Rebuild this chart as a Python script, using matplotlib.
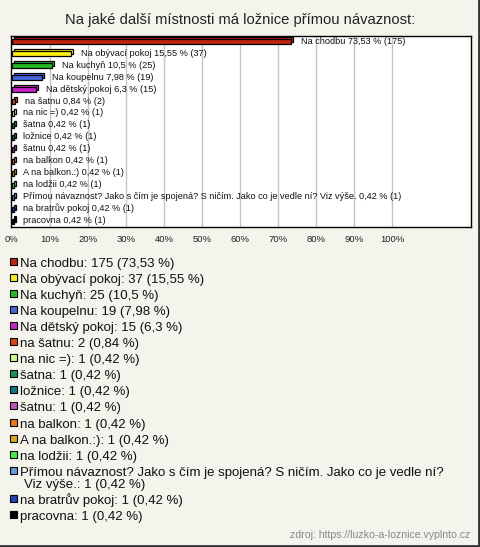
import textwrap
import matplotlib
matplotlib.use("Agg")
import matplotlib.pyplot as plt
from matplotlib.patches import Rectangle
from matplotlib.lines import Line2D

plt.rcParams['font.family'] = ['Liberation Sans', 'DejaVu Sans']

names = ['Na chodbu', 'Na obývací pokoj', 'Na kuchyň', 'Na koupelnu', 'Na dětský pokoj',
         'na šatnu', 'na nic =)', 'šatna', 'ložnice', 'šatnu', 'na balkon',
         'A na balkon.:)', 'na lodžii',
         'Přímou návaznost? Jako s čím je spojená? S ničím. Jako co je vedle ní? Viz výše.',
         'na bratrův pokoj', 'pracovna']
counts = [175, 37, 25, 19, 15, 2, 1, 1, 1, 1, 1, 1, 1, 1, 1, 1]
pcts = [73.53, 15.55, 10.5, 7.98, 6.3, 0.84, 0.42, 0.42, 0.42, 0.42, 0.42, 0.42, 0.42, 0.42, 0.42, 0.42]
colors = ['#c0230f', '#ffee11', '#22bb22', '#4466dd', '#cc22cc', '#dd4411', '#ccff88', '#119955',
          '#117788', '#bb55bb', '#ee7711', '#ddaa11', '#44ee44', '#6699dd', '#2244bb', '#000000']
xticks = [0, 10, 20, 30, 40, 50, 60, 70, 80, 90, 100]

W, H = 480, 547
bg = '#f4f3ec'

def cz(v):
    return str(v).replace('.', ',')

fig = plt.figure(figsize=(W / 100, H / 100), dpi=100, facecolor=bg)
ax = fig.add_axes([11 / W, 1 - 227 / H, 460 / W, 191 / H])
ax.set_facecolor('white')

ax.set_xlim(-0.26, 120.8)
ax.set_ylim(15.5, -0.5)
for t in xticks[1:]:
    ax.axvline(t, color='#c4c4c4', lw=1, zorder=0)

dx, dy, h = 0.55, 0.17, 0.42
for i, (p, c) in enumerate(zip(pcts, colors)):
    # back face for a little 3D look
    ax.add_patch(Rectangle((dx, i - h / 2 - dy), p, h, facecolor=c, edgecolor='black', lw=0.9, zorder=2))
    ax.add_patch(Rectangle((0, i - h / 2), p, h, facecolor=c, edgecolor='black', lw=0.9, zorder=3))
    ax.text(p + 2.6, i - 0.05, f'{names[i]} {cz(p)} % ({counts[i]})', fontsize=6.6,
            va='center', ha='left', color='#111111', zorder=4)

ax.set_xticks(xticks)
ax.set_xticklabels([f'{t}%' for t in xticks], fontsize=6.8, color='#222222')
ax.tick_params(axis='x', length=0, pad=6)
ax.set_yticks([])
for s in ax.spines.values():
    s.set_color('black')
    s.set_linewidth(1)

fig.text(240 / W, 1 - 20 / H, 'Na jaké další místnosti má ložnice přímou návaznost:',
         ha='center', va='center', fontsize=10.6, color='#222222')

# legend
y = 262
for i, (n, c) in enumerate(zip(names, colors)):
    lines = textwrap.wrap(f'{n}: {counts[i]} ({cz(pcts[i])} %)', 72)
    fig.add_artist(Rectangle((10 / W, 1 - (y + 2.5) / H), 7 / W, 7 / H, transform=fig.transFigure,
                             facecolor=c, edgecolor='black', lw=0.8))
    for k, line in enumerate(lines):
        fig.text((20 + 4 * k) / W, 1 - (y + 4.5 + 12.5 * k) / H, line, ha='left', va='baseline',
                 fontsize=9.5, color='#111111')
    y += 16.1 + 12 * (len(lines) - 1)

fig.text(470 / W, 1 - 535 / H, 'zdroj: https://luzko-a-loznice.vyplnto.cz', ha='right', va='center',
         fontsize=7.6, color='#888888')

fig.add_artist(Line2D([1 - 1 / W, 1 - 1 / W], [0, 1], transform=fig.transFigure, color='#333333', lw=2))
fig.add_artist(Line2D([0, 1], [1 / H, 1 / H], transform=fig.transFigure, color='#333333', lw=2))

fig.savefig('out.png', dpi=100, facecolor=bg)
